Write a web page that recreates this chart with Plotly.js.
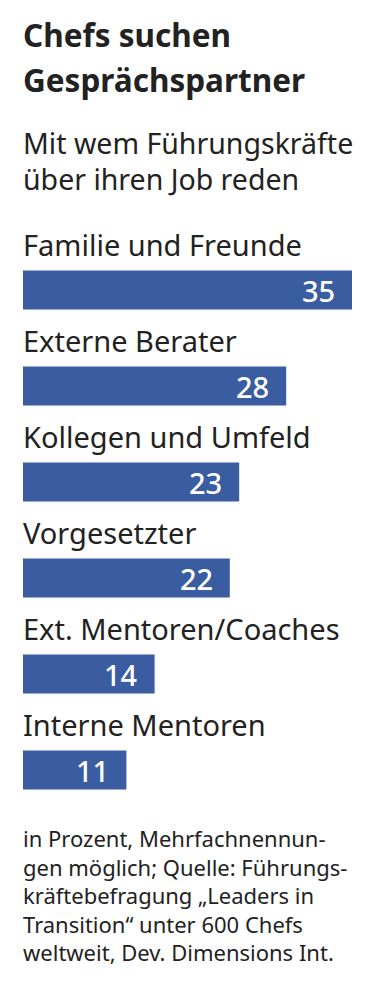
<!DOCTYPE html>
<html>
<head>
<meta charset="utf-8">
<script src="https://cdn.plot.ly/plotly-3.0.1.min.js"></script>
<style>
  html, body { margin: 0; padding: 0; background: #ffffff; }
  #chart { width: 376px; height: 1000px; }
</style>
</head>
<body>
<div id="chart"></div>
<script>
const categories = [
  "Familie und Freunde",
  "Externe Berater",
  "Kollegen und Umfeld",
  "Vorgesetzter",
  "Ext. Mentoren/Coaches",
  "Interne Mentoren"
];
const values = [35, 28, 23, 22, 14, 11];

const titleLines = ["Chefs suchen", "Gesprächspartner"];
const subtitleLines = ["Mit wem Führungskräfte", "über ihren Job reden"];
const footerLines = [
  "in Prozent, Mehrfachnennun-",
  "gen möglich; Quelle: Führungs-",
  "kräftebefragung „Leaders in",
  "Transition“ unter 600 Chefs",
  "weltweit, Dev. Dimensions Int."
];

const FONT = "Noto Sans, Open Sans, sans-serif";
const TEXT = "#222222";
const BLUE = "#3a5da2";

const H = 1000, MT = 242, MB = 182;
const plotH = H - MT - MB;
function py(p) { return (H - MB - p) / plotH; }

const annotations = [];

// title
const titleSize = 31.5, titleBase = [50, 95];
titleLines.forEach((t, i) => {
  annotations.push({
    text: "<b>" + t + "</b>", xref: "paper", yref: "paper",
    x: 0, xanchor: "left", xshift: -2, y: py(titleBase[i] + 0.26 * titleSize), yanchor: "bottom",
    showarrow: false, font: { family: FONT, size: titleSize, color: TEXT }
  });
});
// subtitle
const subSize = 28.5, subBase = [157, 193];
subtitleLines.forEach((t, i) => {
  annotations.push({
    text: t, xref: "paper", yref: "paper",
    x: 0, xanchor: "left", xshift: -2, y: py(subBase[i] + 0.26 * subSize), yanchor: "bottom",
    showarrow: false, font: { family: FONT, size: subSize, color: TEXT }
  });
});
// footer (one multi-line text)
const footSize = 22, footLastBase = 963;
annotations.push({
  text: footerLines.join("<br>"), xref: "paper", yref: "paper",
  x: 0, xanchor: "left", align: "left", xshift: -2,
  y: py(footLastBase + 0.26 * footSize), yanchor: "bottom",
  showarrow: false, font: { family: FONT, size: footSize, color: TEXT }
});
// category labels above bars + values inside
categories.forEach((c, i) => {
  annotations.push({
    text: c, xref: "x", yref: "y", x: 0, y: c,
    xanchor: "left", yanchor: "bottom", xshift: -2, yshift: 24,
    showarrow: false, font: { family: FONT, size: 29, color: TEXT }
  });
  annotations.push({
    text: String(values[i]), xref: "x", yref: "y", x: values[i], y: c,
    xanchor: "right", yanchor: "middle", xshift: -15, yshift: 0,
    showarrow: false, font: { family: FONT, size: 29, weight: 500, color: "#ffffff" }
  });
});

const data = [{
  type: "bar", orientation: "h",
  y: categories, x: values,
  marker: { color: BLUE, line: { width: 0 } },
  hoverinfo: "none"
}];

const layout = {
  width: 376, height: H,
  margin: { l: 23, r: 24, t: MT, b: MB, pad: 0 },
  paper_bgcolor: "#ffffff", plot_bgcolor: "#ffffff",
  showlegend: false,
  bargap: 0.594,
  xaxis: { range: [0, 35], visible: false, fixedrange: true },
  yaxis: { type: "category", categoryorder: "array", categoryarray: categories,
           range: [categories.length - 0.5, -0.5], autorange: false, visible: false, fixedrange: true },
  annotations: annotations
};

Plotly.newPlot("chart", data, layout, { displayModeBar: false, staticPlot: true });
</script>
</body>
</html>
